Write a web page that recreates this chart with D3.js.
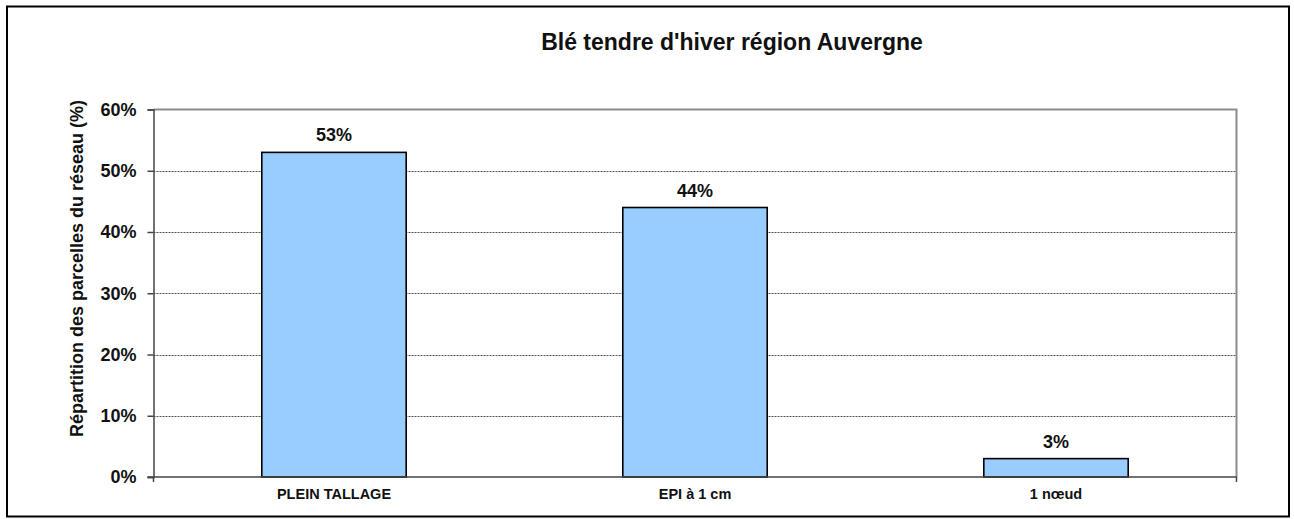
<!DOCTYPE html>
<html>
<head>
<meta charset="utf-8">
<script src="https://cdnjs.cloudflare.com/ajax/libs/d3/7.8.5/d3.min.js"></script>
<style>
  body { margin: 0; background: #fff; }
  svg { display: block; font-family: "Liberation Sans", Arial, sans-serif; }
</style>
</head>
<body>
<div class="chart"></div>
<script>
const title = "Blé tendre d'hiver région Auvergne";
const yLabel = "Répartition des parcelles du réseau (%)";
const categories = ["PLEIN TALLAGE", "EPI à 1 cm", "1 nœud"];
const values = [53, 44, 3];
const yTicks = [0, 10, 20, 30, 40, 50, 60];

const width = 1294;
const height = 519;
const plot = { left: 153.5, right: 1236.5, top: 109.5, bottom: 477 };

const svg = d3
  .select(".chart")
  .append("svg")
  .attr("width", width)
  .attr("height", height);

// outer frame
svg
  .append("rect")
  .attr("x", 7)
  .attr("y", 6.5)
  .attr("width", 1282)
  .attr("height", 510)
  .attr("fill", "none")
  .attr("stroke", "#000")
  .attr("stroke-width", 2);

const x = d3
  .scaleBand()
  .domain(categories)
  .range([plot.left, plot.right])
  .paddingInner(0.6)
  .paddingOuter(0.3);

const y = d3
  .scaleLinear()
  .domain([0, 60])
  .range([plot.bottom, plot.top]);

// gridlines (dotted) for inner ticks
svg
  .append("g")
  .selectAll("line")
  .data(yTicks.filter(d => d > 0 && d < 60))
  .enter()
  .append("line")
  .attr("x1", plot.left)
  .attr("x2", plot.right)
  .attr("y1", d => Math.round(y(d)) + 0.5)
  .attr("y2", d => Math.round(y(d)) + 0.5)
  .attr("stroke", "#555")
  .attr("stroke-width", 1)
  .attr("stroke-dasharray", "2,1");

// top and right plot frame (gray)
svg
  .append("path")
  .attr("d", "M" + plot.left + "," + plot.top + "H" + plot.right + "V" + plot.bottom)
  .attr("fill", "none")
  .attr("stroke", "#8c8c8c")
  .attr("stroke-width", 2);

// bars
svg
  .append("g")
  .selectAll("rect")
  .data(values)
  .enter()
  .append("rect")
  .attr("x", (d, i) => x(categories[i]))
  .attr("y", d => y(d))
  .attr("width", x.bandwidth())
  .attr("height", d => plot.bottom - y(d))
  .attr("fill", "#99ccff")
  .attr("stroke", "#000")
  .attr("stroke-width", 1.6);

// value labels
svg
  .append("g")
  .selectAll("text")
  .data(values)
  .enter()
  .append("text")
  .attr("x", (d, i) => x(categories[i]) + x.bandwidth() / 2)
  .attr("y", d => y(d) - 11)
  .attr("text-anchor", "middle")
  .attr("font-size", 18)
  .attr("font-weight", "bold")
  .attr("fill", "#111")
  .text(d => d + "%");

// y axis
const yAxis = svg
  .append("g")
  .attr("transform", "translate(" + plot.left + ",0)")
  .call(
    d3
      .axisLeft(y)
      .tickValues(yTicks)
      .tickSize(6)
      .tickPadding(11)
      .tickFormat(d => d + "%")
  );
yAxis.select(".domain").attr("stroke", "#444").attr("stroke-width", 1.5);
yAxis.selectAll(".tick line").attr("stroke", "#444").attr("stroke-width", 1.5);
yAxis
  .selectAll(".tick text")
  .attr("font-size", 18)
  .attr("font-weight", "bold")
  .attr("fill", "#111")
  .attr("font-family", "Liberation Sans, Arial, sans-serif");

// x axis
const xAxis = svg
  .append("g")
  .attr("transform", "translate(0," + plot.bottom + ")")
  .call(d3.axisBottom(x).tickSize(0).tickPadding(0));
xAxis.select(".domain").remove();
xAxis
  .selectAll(".tick text")
  .attr("dy", null)
  .attr("y", 22)
  .attr("font-size", 14.5)
  .attr("font-weight", "bold")
  .attr("fill", "#111")
  .attr("font-family", "Liberation Sans, Arial, sans-serif");

svg
  .append("line")
  .attr("x1", plot.left - 6)
  .attr("x2", plot.right)
  .attr("y1", plot.bottom)
  .attr("y2", plot.bottom)
  .attr("stroke", "#444")
  .attr("stroke-width", 1.5);
svg
  .selectAll(".xtick")
  .data([plot.left, plot.right])
  .enter()
  .append("line")
  .attr("x1", d => d)
  .attr("x2", d => d)
  .attr("y1", plot.bottom)
  .attr("y2", plot.bottom + 5)
  .attr("stroke", "#444")
  .attr("stroke-width", 1.5);

// title
svg
  .append("text")
  .attr("x", 732)
  .attr("y", 50)
  .attr("text-anchor", "middle")
  .attr("font-size", 23)
  .attr("font-weight", "bold")
  .attr("fill", "#111")
  .text(title);

// y title
svg
  .append("text")
  .attr("transform", "translate(83,268.5) rotate(-90)")
  .attr("text-anchor", "middle")
  .attr("font-size", 18)
  .attr("font-weight", "bold")
  .attr("fill", "#111")
  .text(yLabel);
</script>
</body>
</html>
